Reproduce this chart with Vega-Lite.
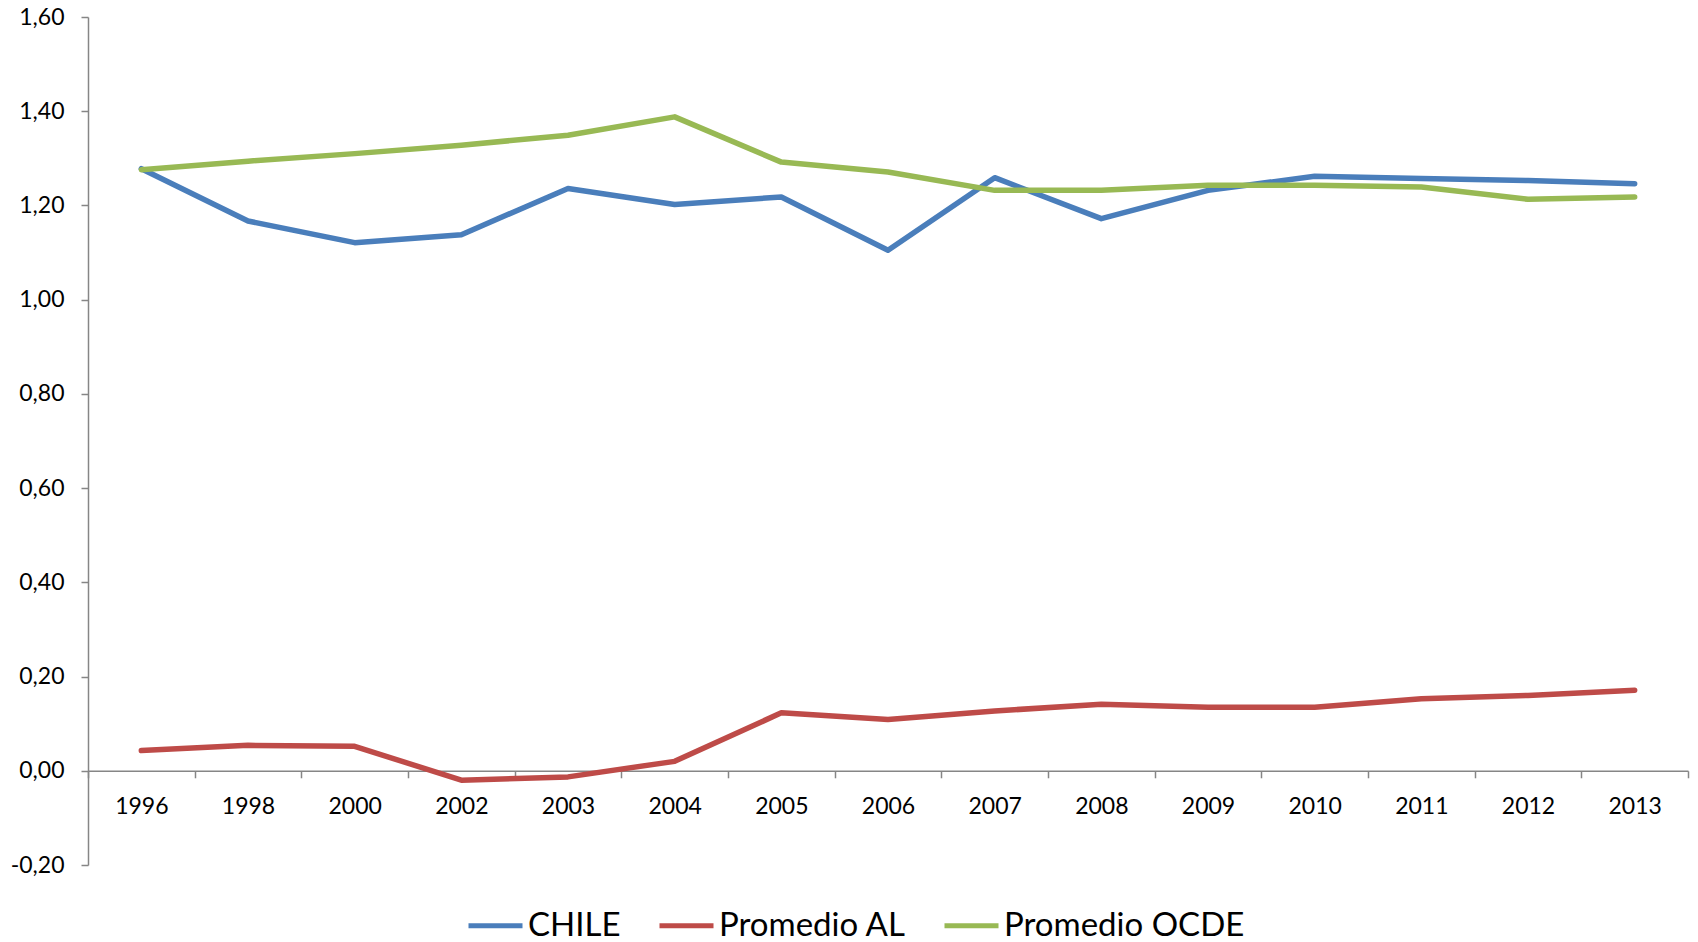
{
  "$schema": "https://vega.github.io/schema/vega-lite/v6.json",
  "width": 1600,
  "height": 848,
  "autosize": "none",
  "padding": {"left": 88, "top": 17, "right": 10, "bottom": 77},
  "background": "white",
  "config": {
    "view": {"stroke": null},
    "font": "Lato",
    "axis": {"labelFont": "Lato", "labelColor": "#000000", "domainColor": "#868686", "tickColor": "#868686", "grid": false, "title": null}
  },
  "data": {
    "values": [
      {"year": "1996", "serie": "CHILE", "v": 1.278},
      {"year": "1998", "serie": "CHILE", "v": 1.167},
      {"year": "2000", "serie": "CHILE", "v": 1.121},
      {"year": "2002", "serie": "CHILE", "v": 1.138},
      {"year": "2003", "serie": "CHILE", "v": 1.236},
      {"year": "2004", "serie": "CHILE", "v": 1.202},
      {"year": "2005", "serie": "CHILE", "v": 1.218},
      {"year": "2006", "serie": "CHILE", "v": 1.105},
      {"year": "2007", "serie": "CHILE", "v": 1.259},
      {"year": "2008", "serie": "CHILE", "v": 1.172},
      {"year": "2009", "serie": "CHILE", "v": 1.232},
      {"year": "2010", "serie": "CHILE", "v": 1.262},
      {"year": "2011", "serie": "CHILE", "v": 1.257},
      {"year": "2012", "serie": "CHILE", "v": 1.253},
      {"year": "2013", "serie": "CHILE", "v": 1.246},
      {"year": "1996", "serie": "Promedio AL", "v": 0.043},
      {"year": "1998", "serie": "Promedio AL", "v": 0.054},
      {"year": "2000", "serie": "Promedio AL", "v": 0.052},
      {"year": "2002", "serie": "Promedio AL", "v": -0.020},
      {"year": "2003", "serie": "Promedio AL", "v": -0.013},
      {"year": "2004", "serie": "Promedio AL", "v": 0.020},
      {"year": "2005", "serie": "Promedio AL", "v": 0.123},
      {"year": "2006", "serie": "Promedio AL", "v": 0.109},
      {"year": "2007", "serie": "Promedio AL", "v": 0.127},
      {"year": "2008", "serie": "Promedio AL", "v": 0.141},
      {"year": "2009", "serie": "Promedio AL", "v": 0.135},
      {"year": "2010", "serie": "Promedio AL", "v": 0.135},
      {"year": "2011", "serie": "Promedio AL", "v": 0.153},
      {"year": "2012", "serie": "Promedio AL", "v": 0.160},
      {"year": "2013", "serie": "Promedio AL", "v": 0.171},
      {"year": "1996", "serie": "Promedio OCDE", "v": 1.276},
      {"year": "1998", "serie": "Promedio OCDE", "v": 1.294},
      {"year": "2000", "serie": "Promedio OCDE", "v": 1.310},
      {"year": "2002", "serie": "Promedio OCDE", "v": 1.328},
      {"year": "2003", "serie": "Promedio OCDE", "v": 1.349},
      {"year": "2004", "serie": "Promedio OCDE", "v": 1.388},
      {"year": "2005", "serie": "Promedio OCDE", "v": 1.292},
      {"year": "2006", "serie": "Promedio OCDE", "v": 1.271},
      {"year": "2007", "serie": "Promedio OCDE", "v": 1.232},
      {"year": "2008", "serie": "Promedio OCDE", "v": 1.232},
      {"year": "2009", "serie": "Promedio OCDE", "v": 1.243},
      {"year": "2010", "serie": "Promedio OCDE", "v": 1.243},
      {"year": "2011", "serie": "Promedio OCDE", "v": 1.239},
      {"year": "2012", "serie": "Promedio OCDE", "v": 1.213},
      {"year": "2013", "serie": "Promedio OCDE", "v": 1.218}
    ]
  },
  "mark": {"type": "line", "strokeWidth": 5.5, "strokeCap": "round", "strokeJoin": "round"},
  "encoding": {
    "x": {
      "field": "year", "type": "ordinal",
      "scale": {"paddingInner": 0, "paddingOuter": 0},
      "axis": {
        "labelAngle": 0, "labelFontSize": 23, "offset": -94.22, "tickBand": "extent",
        "tickSize": 7, "labelPadding": 18, "domainWidth": 1.5, "tickWidth": 1.5
      }
    },
    "y": {
      "field": "v", "type": "quantitative",
      "scale": {"domain": [-0.2, 1.6], "nice": false, "zero": false},
      "axis": {
        "values": [-0.2, 0, 0.2, 0.4, 0.6, 0.8, 1.0, 1.2, 1.4, 1.6],
        "labelExpr": "replace(replace(format(datum.value, '.2f'), '.', ','), '\u2212', '-')",
        "labelFontSize": 23, "tickSize": 7, "labelPadding": 17, "domainWidth": 1.5, "tickWidth": 1.5
      }
    },
    "color": {
      "field": "serie", "type": "nominal",
      "scale": {"domain": ["CHILE", "Promedio AL", "Promedio OCDE"], "range": ["#4A7EBB", "#BE4B48", "#98B954"]},
      "legend": {
        "title": null, "orient": "none", "direction": "horizontal",
        "legendX": 378, "legendY": 879,
        "symbolType": "stroke", "symbolSize": 2916, "symbolStrokeWidth": 5,
        "labelFontSize": 33, "labelFont": "Lato", "labelColor": "#000000",
        "labelOffset": 3, "columnPadding": 28, "labelLimit": 400
      }
    }
  }
}
